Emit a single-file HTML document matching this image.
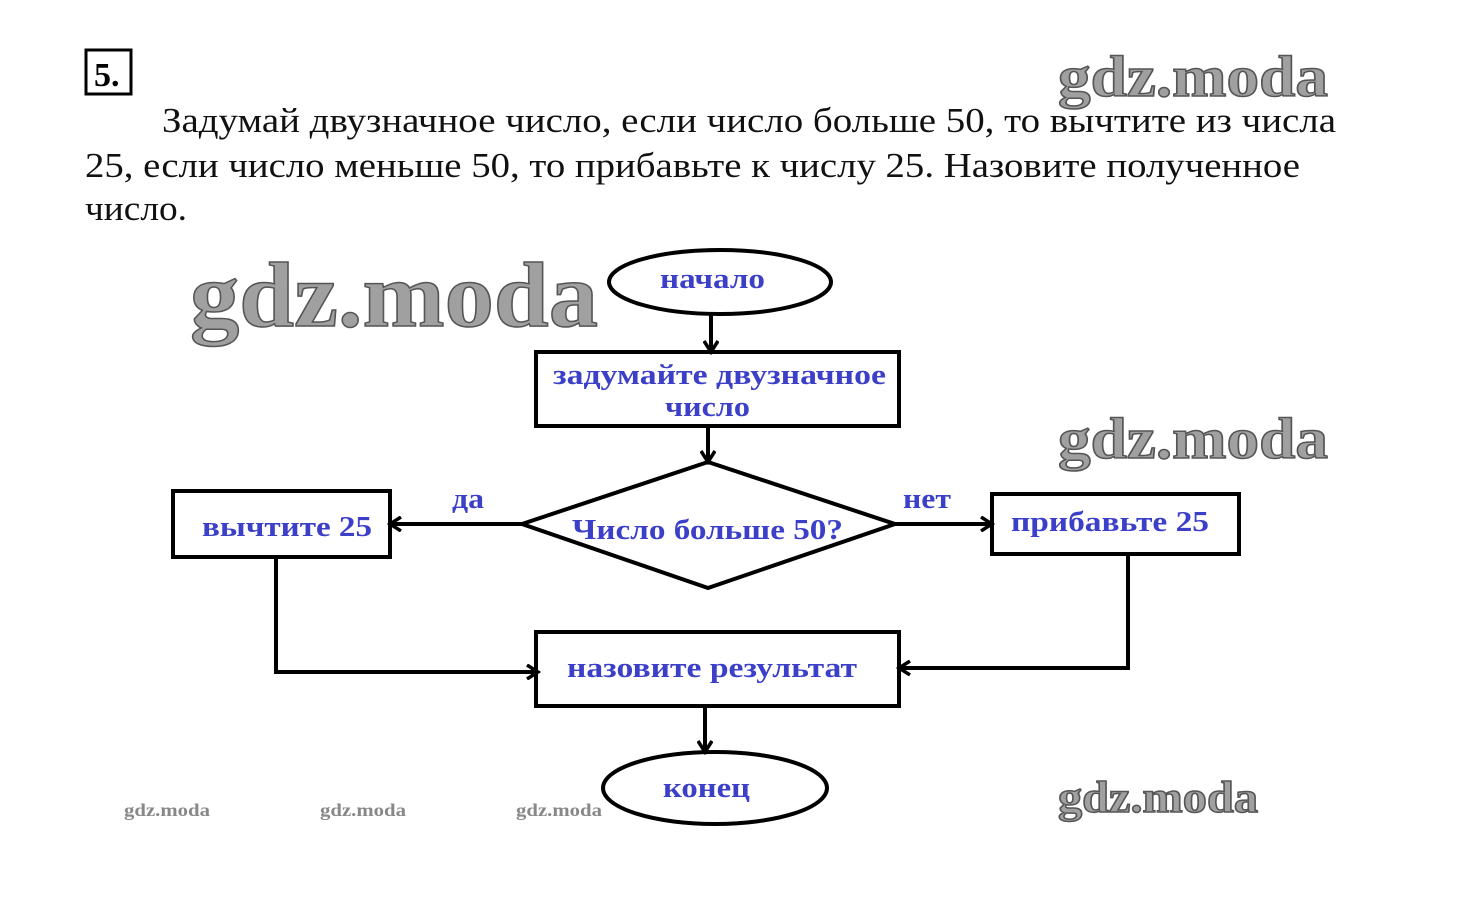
<!DOCTYPE html>
<html><head><meta charset="utf-8"><style>
html,body{margin:0;padding:0;background:#fff;}
svg{display:block;}
.p{font-family:"Liberation Serif",serif;font-size:35px;fill:#111;}
.b{font-family:"Liberation Serif",serif;font-weight:bold;font-size:28px;fill:#3c3fc8;}
.w{font-family:"Liberation Serif",serif;font-weight:bold;fill:#a0a0a0;stroke:#555;stroke-width:1.5;}
.ws{font-family:"Liberation Serif",serif;font-weight:bold;font-size:18px;fill:#888;}
</style></head><body>
<svg width="1460" height="900" viewBox="0 0 1460 900" xmlns="http://www.w3.org/2000/svg">
<defs><marker id="a" markerWidth="16" markerHeight="16" refX="13" refY="8" orient="auto" markerUnits="userSpaceOnUse"><path d="M2,1 L13,8 L2,15" fill="none" stroke="#000" stroke-width="3.5"/></marker></defs>
<rect x="86" y="50" width="45" height="44" fill="none" stroke="#000" stroke-width="3"/>
<text x="94" y="86" font-family="Liberation Serif,serif" font-weight="bold" font-size="34">5.</text>
<text class="p" x="162" y="132" textLength="1174" lengthAdjust="spacingAndGlyphs">Задумай двузначное число, если число больше 50, то вычтите из числа</text>
<text class="p" x="85" y="177" textLength="1215" lengthAdjust="spacingAndGlyphs">25, если число меньше 50, то прибавьте к числу 25. Назовите полученное</text>
<text class="p" x="85" y="220" textLength="102" lengthAdjust="spacingAndGlyphs">число.</text>

<text class="w" x="1058" y="96" font-size="58" textLength="270" lengthAdjust="spacingAndGlyphs">gdz.moda</text>
<text class="w" x="190" y="326" font-size="92" textLength="408" lengthAdjust="spacingAndGlyphs">gdz.moda</text>
<text class="w" x="1058" y="458" font-size="58" textLength="270" lengthAdjust="spacingAndGlyphs">gdz.moda</text>
<text class="w" x="1058" y="812" font-size="44" textLength="200" lengthAdjust="spacingAndGlyphs">gdz.moda</text>
<text class="ws" x="124" y="816" textLength="86" lengthAdjust="spacingAndGlyphs">gdz.moda</text>
<text class="ws" x="320" y="816" textLength="86" lengthAdjust="spacingAndGlyphs">gdz.moda</text>
<text class="ws" x="516" y="816" textLength="86" lengthAdjust="spacingAndGlyphs">gdz.moda</text>

<g fill="none" stroke="#000" stroke-width="4">
<ellipse cx="720" cy="282" rx="111" ry="32"/>
<rect x="536" y="352" width="363" height="74"/>
<polygon points="708,462 895,524 708,588 522,524"/>
<rect x="173" y="491" width="217" height="66"/>
<rect x="992" y="494" width="247" height="60"/>
<rect x="536" y="632" width="363" height="74"/>
<ellipse cx="715" cy="788" rx="112" ry="36"/>
<line x1="711" y1="314" x2="711" y2="352" marker-end="url(#a)"/>
<line x1="708" y1="426" x2="708" y2="462" marker-end="url(#a)"/>
<line x1="522" y1="524" x2="390" y2="524" marker-end="url(#a)"/>
<line x1="895" y1="524" x2="992" y2="524" marker-end="url(#a)"/>
<polyline points="276,557 276,672 538,672" marker-end="url(#a)"/>
<polyline points="1128,554 1128,668 899,668" marker-end="url(#a)"/>
<line x1="705" y1="706" x2="705" y2="752" marker-end="url(#a)"/>
</g>

<text class="b" x="660" y="288" textLength="105" lengthAdjust="spacingAndGlyphs">начало</text>
<text class="b" x="553" y="384" textLength="333" lengthAdjust="spacingAndGlyphs">задумайте двузначное</text>
<text class="b" x="665" y="416" textLength="85" lengthAdjust="spacingAndGlyphs">число</text>
<text class="b" x="572" y="539" textLength="271" lengthAdjust="spacingAndGlyphs">Число больше 50?</text>
<text class="b" x="202" y="536" textLength="170" lengthAdjust="spacingAndGlyphs">вычтите 25</text>
<text class="b" x="1011" y="531" textLength="198" lengthAdjust="spacingAndGlyphs">прибавьте 25</text>
<text class="b" x="452" y="508" textLength="32" lengthAdjust="spacingAndGlyphs">да</text>
<text class="b" x="903" y="508" textLength="48" lengthAdjust="spacingAndGlyphs">нет</text>
<text class="b" x="567" y="677" textLength="290" lengthAdjust="spacingAndGlyphs">назовите результат</text>
<text class="b" x="663" y="797" textLength="87" lengthAdjust="spacingAndGlyphs">конец</text>
</svg>
</body></html>
